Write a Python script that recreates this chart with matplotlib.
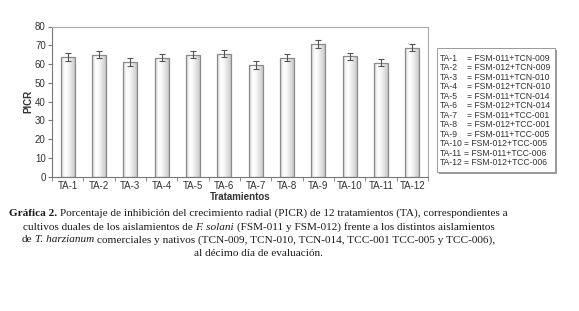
import numpy as np
import matplotlib
matplotlib.use("Agg")
import matplotlib.pyplot as plt
from matplotlib.patches import Rectangle
from matplotlib.font_manager import FontProperties

# data
treatments = ["TA-1", "TA-2", "TA-3", "TA-4", "TA-5", "TA-6",
              "TA-7", "TA-8", "TA-9", "TA-10", "TA-11", "TA-12"]
picr = [63.9, 65.0, 61.2, 63.4, 65.0, 65.5, 59.6, 63.4, 70.8, 64.1, 60.7, 68.7]
picr_err = [2.1, 2.0, 2.0, 2.0, 2.0, 2.0, 2.0, 2.0, 2.0, 1.8, 1.8, 1.8]
combos = ["FSM-011+TCN-009", "FSM-012+TCN-009", "FSM-011+TCN-010", "FSM-012+TCN-010",
          "FSM-011+TCN-014", "FSM-012+TCN-014", "FSM-011+TCC-001", "FSM-012+TCC-001",
          "FSM-011+TCC-005", "FSM-012+TCC-005", "FSM-011+TCC-006", "FSM-012+TCC-006"]
y_ticks = [0, 10, 20, 30, 40, 50, 60, 70, 80]

# caption lines as (text, weight, style) pieces, joined with single spaces
caption = [
    [("Gráfica 2.", "bold", "normal"),
     ("Porcentaje de inhibición del crecimiento radial (PICR) de 12 tratamientos (TA), correspondientes a", "normal", "normal")],
    [("cultivos duales de los aislamientos de", "normal", "normal"), ("F. solani", "normal", "italic"),
     ("(FSM-011 y FSM-012) frente a los distintos aislamientos", "normal", "normal")],
    [("de", "normal", "normal"), ("T. harzianum", "normal", "italic"),
     ("comerciales y nativos (TCN-009, TCN-010, TCN-014, TCC-001 TCC-005 y TCC-006),", "normal", "normal")],
    [("al décimo día de evaluación.", "normal", "normal")],
]

W, H = 579, 311
fig = plt.figure(figsize=(W / 100, H / 100), dpi=100)
ax = fig.add_axes([52 / W, 1 - 176.7 / H, (428 - 52) / W, (176.7 - 26.5) / H])

sans = "Liberation Sans"
txt = "#333333"
x = np.arange(len(treatments))

bars = ax.bar(x, picr, width=0.44, color="none", edgecolor="#8a8a8a", linewidth=0.9, zorder=3)
# cylinder-like shading for each bar
grad = np.array([0.80, 0.90, 0.97, 1.0, 0.98, 0.95, 0.91, 0.87, 0.83, 0.78])
grad = np.interp(np.linspace(0, 9, 60), np.arange(10), grad).reshape(1, -1)
for b in bars:
    im = ax.imshow(grad, cmap="gray", vmin=0, vmax=1, aspect="auto", zorder=2,
                   extent=[b.get_x(), b.get_x() + b.get_width(), 0, b.get_height()],
                   interpolation="bilinear")
    im.set_clip_path(b)
ax.errorbar(x, picr, yerr=picr_err, fmt="none", ecolor="#555555", elinewidth=0.8,
            capsize=2, capthick=0.8, zorder=4)

ax.set_xlim(-0.5, len(treatments) - 0.5)
ax.set_ylim(0, 80)
ax.set_yticks(y_ticks)
ax.set_xticks(x)
ax.set_xticklabels(treatments, fontsize=7, family=sans, color=txt)
ax.set_xticks(np.arange(len(treatments) + 1) - 0.5, minor=True)
ax.tick_params(axis="x", which="major", length=0, pad=3)
ax.tick_params(axis="x", which="minor", length=3, color="#777777", direction="out")
ax.tick_params(axis="y", length=3, color="#777777", labelsize=7, labelcolor=txt, pad=1.5)
for lab in ax.get_yticklabels():
    lab.set_family(sans)
for s in ["top", "right"]:
    ax.spines[s].set_color("#aaaaaa")
    ax.spines[s].set_linewidth(0.8)
for s in ["left", "bottom"]:
    ax.spines[s].set_color("#777777")
    ax.spines[s].set_linewidth(0.8)

ax.set_xlabel("Tratamientos", fontsize=7, fontweight="bold", family=sans, color=txt, labelpad=1)
ax.set_ylabel("PICR", fontsize=7, fontweight="bold", family=sans, color=txt, labelpad=1)

# legend box with shadow
lx0, lx1, ly0, ly1 = 437, 555, 48, 172
fig.patches.append(Rectangle((lx0 / W + 2 / W, 1 - ly1 / H - 2 / H), (lx1 - lx0) / W, (ly1 - ly0) / H,
                             transform=fig.transFigure, facecolor="#9a9a9a", edgecolor="none", zorder=1))
fig.patches.append(Rectangle((lx0 / W, 1 - ly1 / H), (lx1 - lx0) / W, (ly1 - ly0) / H,
                             transform=fig.transFigure, facecolor="white", edgecolor="#999999",
                             linewidth=0.7, zorder=2))
renderer = fig.canvas.get_renderer()
for i, (t, c) in enumerate(zip(treatments, combos)):
    yy = 1 - (58.3 + i * 9.49) / H
    lab = fig.text(440 / W, yy, t, fontsize=6.2, family=sans, color=txt, va="center", zorder=3)
    x_end = lab.get_window_extent(renderer).x1
    # single-digit rows are tab-aligned, the longer ones just get a space
    x_eq = 467 if len(t) <= 4 else x_end + 1.5
    fig.text(x_eq / W, yy, "= " + c, fontsize=6.2, family=sans, color=txt,
             va="center", zorder=3)

# caption, built from styled pieces and centred
serif = "Liberation Serif"
fs = 8.1
space_w = 0.25 * fs * 100 / 72
line_y = [213, 227, 240, 253]
for parts, yc in zip(caption, line_y):
    widths = []
    for s, w, st in parts:
        fp = FontProperties(family=serif, size=fs, weight=w, style=st)
        widths.append(renderer.get_text_width_height_descent(s, fp, ismath=False)[0])
    total = sum(widths) + space_w * (len(parts) - 1)
    start = 258.5 - total / 2
    for (s, w, st), wd in zip(parts, widths):
        fig.text(start / W, 1 - yc / H, s, fontsize=fs, family=serif, fontweight=w,
                 fontstyle=st, color="#1a1a1a", va="center")
        start += wd + space_w

fig.savefig("out.png", dpi=100)
